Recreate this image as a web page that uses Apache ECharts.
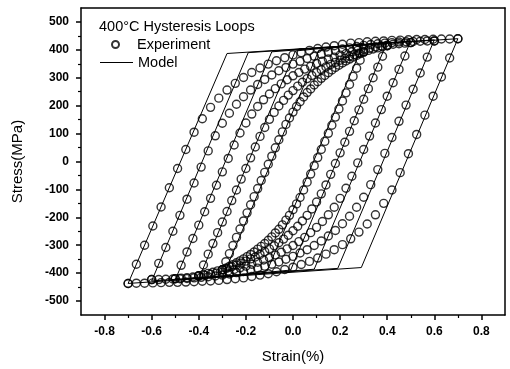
<!DOCTYPE html>
<html>
<head>
<meta charset="utf-8">
<script src="https://cdn.jsdelivr.net/npm/echarts@6/dist/echarts.min.js"></script>
<style>html,body{margin:0;padding:0;background:#fff}#c{width:510px;height:369px}</style>
</head>
<body>
<div id="c"></div>
<script>
// ---- Tick labels ----
const xTicks = [-0.8,-0.6,-0.4,-0.2,0,0.2,0.4,0.6,0.8];
const xMinor = [-0.7,-0.5,-0.3,-0.1,0.1,0.3,0.5,0.7];
const yTicks = [-500,-400,-300,-200,-100,0,100,200,300,400,500];
const yMinor = [-450,-350,-250,-150,-50,50,150,250,350,450];

// ---- Experiment: strain grids per loop (ascending order) ----
const s07 = [-0.7,-0.665,-0.63,-0.595,-0.56,-0.525,-0.49,-0.455,-0.42,-0.385,-0.35,-0.315,-0.28,-0.245,-0.21,-0.175,-0.14,-0.105,-0.07,-0.035,0,0.035,0.07,0.105,0.14,0.175,0.21,0.245,0.28,0.315,0.35,0.385,0.42,0.455,0.49,0.525,0.56,0.595,0.63,0.665,0.7];
const s06 = [-0.6,-0.57,-0.54,-0.51,-0.48,-0.45,-0.42,-0.39,-0.36,-0.33,-0.3,-0.27,-0.24,-0.21,-0.18,-0.15,-0.12,-0.09,-0.06,-0.03,0,0.03,0.06,0.09,0.12,0.15,0.18,0.21,0.24,0.27,0.3,0.33,0.36,0.39,0.42,0.45,0.48,0.51,0.54,0.57,0.6];
const s05 = [-0.5,-0.475,-0.45,-0.425,-0.4,-0.375,-0.35,-0.325,-0.3,-0.275,-0.25,-0.225,-0.2,-0.175,-0.15,-0.125,-0.1,-0.075,-0.05,-0.025,0,0.025,0.05,0.075,0.1,0.125,0.15,0.175,0.2,0.225,0.25,0.275,0.3,0.325,0.35,0.375,0.4,0.425,0.45,0.475,0.5];
const s04 = [-0.4,-0.38,-0.36,-0.34,-0.32,-0.3,-0.28,-0.26,-0.24,-0.22,-0.2,-0.18,-0.16,-0.14,-0.12,-0.1,-0.08,-0.06,-0.04,-0.02,0,0.02,0.04,0.06,0.08,0.1,0.12,0.14,0.16,0.18,0.2,0.22,0.24,0.26,0.28,0.3,0.32,0.34,0.36,0.38,0.4];
const s03 = [-0.3,-0.285,-0.27,-0.255,-0.24,-0.225,-0.21,-0.195,-0.18,-0.165,-0.15,-0.135,-0.12,-0.105,-0.09,-0.075,-0.06,-0.045,-0.03,-0.015,0,0.015,0.03,0.045,0.06,0.075,0.09,0.105,0.12,0.135,0.15,0.165,0.18,0.195,0.21,0.225,0.24,0.255,0.27,0.285,0.3];

// ascending branch stresses (MPa), same order as strain grid
const up07 = [-437,-368,-300,-231,-163,-94,-25,43,105,153,194,227,256,280,301,319,335,349,361,372,382,390,398,405,410,415,420,424,426,429,431,432,434,435,436,437,437,438,439,439,440];
const up06 = [-423,-365,-308,-250,-193,-135,-77,-20,38,92,137,173,205,232,256,276,294,310,325,337,349,359,369,377,384,391,397,403,407,412,416,419,422,424,426,428,429,430,431,432,432];
const up05 = [-420,-372,-324,-276,-228,-180,-132,-85,-37,11,59,102,138,170,197,221,242,261,278,293,307,319,331,341,351,359,367,374,381,387,393,398,402,406,410,414,417,420,422,424,426];
const up04 = [-409,-371,-332,-294,-255,-217,-179,-140,-102,-63,-25,13,52,90,122,151,176,199,219,238,254,270,284,297,308,319,329,339,348,355,363,370,377,383,388,394,398,403,407,411,415];
const up03 = [-388,-359,-330,-301,-272,-242,-213,-184,-155,-126,-97,-68,-39,-10,19,49,78,106,133,156,177,197,214,231,247,260,274,286,298,308,318,328,337,345,353,360,367,374,380,386,392];

// descending branch stresses (MPa), from +amplitude down to -amplitude
const down07 = [440,371,303,234,166,97,28,-40,-102,-150,-191,-224,-253,-277,-298,-316,-332,-346,-358,-369,-379,-387,-395,-402,-407,-412,-417,-420,-423,-426,-428,-429,-431,-432,-433,-433,-434,-435,-436,-436,-437];
const down06 = [432,374,317,259,202,144,86,29,-29,-83,-128,-164,-196,-223,-247,-267,-285,-301,-316,-328,-340,-350,-360,-368,-375,-382,-388,-394,-398,-403,-407,-410,-413,-415,-417,-419,-420,-421,-422,-423,-423];
const down05 = [426,378,330,282,234,186,138,91,43,-5,-53,-96,-132,-164,-191,-215,-236,-255,-272,-287,-301,-313,-325,-335,-345,-353,-361,-368,-375,-381,-387,-392,-396,-400,-404,-408,-411,-414,-416,-418,-420];
const down04 = [415,377,338,300,261,223,185,146,108,69,31,-7,-46,-84,-116,-145,-170,-193,-213,-232,-248,-264,-278,-291,-302,-313,-323,-333,-342,-349,-357,-364,-371,-377,-382,-388,-392,-397,-401,-405,-409];
const down03 = [392,363,334,305,276,246,217,188,159,130,101,72,43,14,-15,-45,-74,-102,-129,-152,-173,-193,-210,-227,-243,-256,-270,-282,-294,-304,-314,-324,-333,-341,-349,-356,-363,-370,-376,-382,-388];

// ---- Model loops (corner points, closed) ----
const mStrain07 = [-0.7,-0.28,0.7,0.29,-0.7];
const mStress07 = [-437,387,440,-380,-437];
const mStrain06 = [-0.6,-0.19,0.6,0.19,-0.6];
const mStress06 = [-428,390,436,-383,-428];
const mStrain05 = [-0.5,-0.09,0.5,0.09,-0.5];
const mStress05 = [-424,393,432,-386,-424];
const mStrain04 = [-0.4,0.01,0.4,-0.01,-0.4];
const mStress04 = [-420,396,428,-389,-420];
const mStrain03 = [-0.3,0.11,0.3,-0.11,-0.3];
const mStress03 = [-416,399,424,-392,-416];

const FONT = 'Liberation Sans, Arial, sans-serif';

function loopData(s, up, down) {
  const a = s.map((x, i) => [x, up[i]]);
  const r = s.slice().reverse();
  const b = r.map((x, i) => [x, down[i]]);
  return a.concat(b);
}
function zip(xs, ys) { return xs.map((x, i) => [x, ys[i]]); }

const expLoops = [[s07,up07,down07],[s06,up06,down06],[s05,up05,down05],[s04,up04,down04],[s03,up03,down03]];
const modLoops = [[mStrain07,mStress07],[mStrain06,mStress06],[mStrain05,mStress05],[mStrain04,mStress04],[mStrain03,mStress03]];

const series = [];
modLoops.forEach(m => series.push({
  name: 'Model', type: 'line', xAxisIndex: 0, yAxisIndex: 0,
  data: zip(m[0], m[1]), symbol: 'none', showSymbol: false,
  lineStyle: { color: '#000', width: 1 }, itemStyle: { color: '#000' },
  animation: false, z: 3
}));
expLoops.forEach(e => series.push({
  name: 'Experiment', type: 'scatter', xAxisIndex: 0, yAxisIndex: 0,
  data: loopData(e[0], e[1], e[2]), symbol: 'circle', symbolSize: 8,
  itemStyle: { color: 'rgba(0,0,0,0)', borderColor: '#000', borderWidth: 1.4 },
  animation: false, z: 4
}));

const grid = { left: 81, right: 5, top: 8, bottom: 50 };
const chart = echarts.init(document.getElementById('c'), null, { renderer: 'canvas' });
chart.setOption({
  backgroundColor: '#fff',
  animation: false,
  title: {
    text: '400°C Hysteresis Loops', left: 99, top: 19, padding: 0,
    textStyle: { fontFamily: FONT, fontSize: 14.5, fontWeight: 'normal', color: '#000' }
  },
  legend: [
    { data: [{ name: 'Experiment', icon: 'circle' }], left: 111, top: 37, padding: 0, itemWidth: 33, itemHeight: 7,
      textStyle: { fontFamily: FONT, fontSize: 14.5, color: '#000' } },
    { data: [{ name: 'Model', icon: 'rect' }], left: 100, top: 55, padding: 0, itemWidth: 33, itemHeight: 1.2,
      itemStyle: { color: '#000' },
      textStyle: { fontFamily: FONT, fontSize: 14.5, color: '#000' } }
  ],
  grid: grid,
  xAxis: [
    { type: 'value', min: -0.9, max: 0.9, position: 'bottom',
      name: 'Strain(%)', nameLocation: 'middle', nameGap: 34,
      nameTextStyle: { fontFamily: FONT, fontSize: 15, color: '#000' },
      axisLine: { onZero: false, lineStyle: { color: '#000', width: 1.5 } },
      axisTick: { customValues: xTicks, length: 5, lineStyle: { color: '#000', width: 1.5 } },
      axisLabel: { customValues: xTicks, fontFamily: FONT, fontSize: 12, fontWeight: 'bold', color: '#000', margin: 11,
        formatter: v => v.toFixed(1) },
      splitLine: { show: false } },
    { type: 'value', min: -0.9, max: 0.9, position: 'bottom',
      axisLine: { show: false, onZero: false },
      axisTick: { customValues: xMinor, length: 3, lineStyle: { color: '#000', width: 1.2 } },
      axisLabel: { show: false }, splitLine: { show: false } },
    { type: 'value', min: -0.9, max: 0.9, position: 'top',
      axisLine: { onZero: false, lineStyle: { color: '#000', width: 1.5 } },
      axisTick: { show: false }, axisLabel: { show: false }, splitLine: { show: false } }
  ],
  yAxis: [
    { type: 'value', min: -550, max: 550, position: 'left',
      name: 'Stress(MPa)', nameLocation: 'middle', nameGap: 56, nameRotate: 90,
      nameTextStyle: { fontFamily: FONT, fontSize: 15, color: '#000' },
      axisLine: { onZero: false, lineStyle: { color: '#000', width: 1.5 } },
      axisTick: { customValues: yTicks, length: 5, lineStyle: { color: '#000', width: 1.5 } },
      axisLabel: { customValues: yTicks, fontFamily: FONT, fontSize: 12, fontWeight: 'bold', color: '#000', margin: 12 },
      splitLine: { show: false } },
    { type: 'value', min: -550, max: 550, position: 'left',
      axisLine: { show: false, onZero: false },
      axisTick: { customValues: yMinor, length: 3, lineStyle: { color: '#000', width: 1.2 } },
      axisLabel: { show: false }, splitLine: { show: false } },
    { type: 'value', min: -550, max: 550, position: 'right',
      axisLine: { onZero: false, lineStyle: { color: '#000', width: 1.5 } },
      axisTick: { show: false }, axisLabel: { show: false }, splitLine: { show: false } }
  ],
  series: series
});
</script>
</body>
</html>
